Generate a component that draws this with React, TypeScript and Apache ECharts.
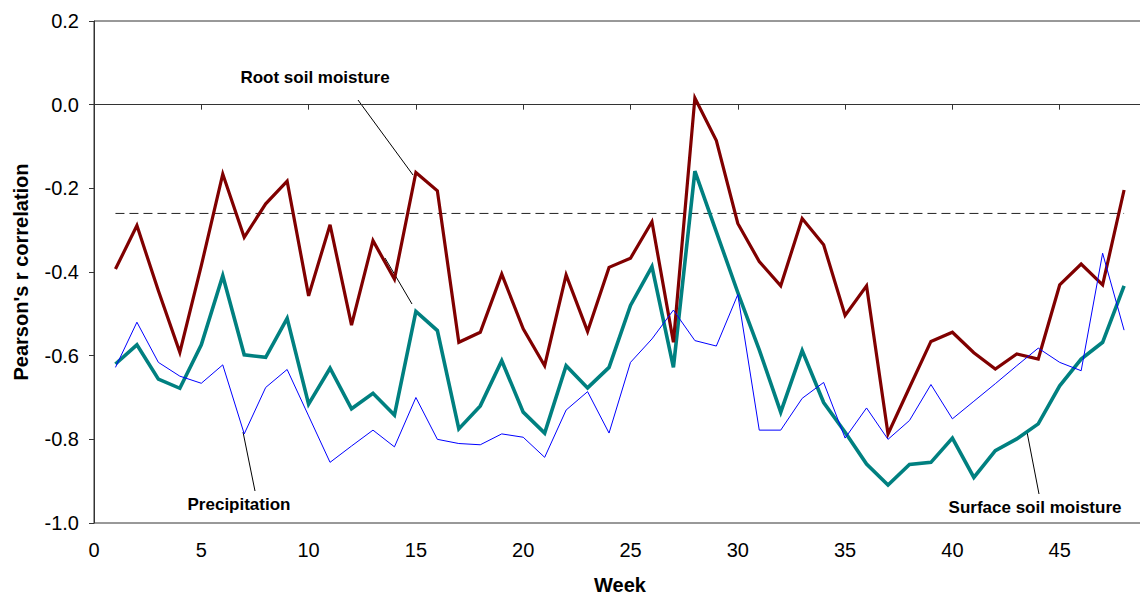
import React, { useEffect, useRef } from "react";
import * as echarts from "echarts";

const weeks = [
  1, 2, 3, 4, 5, 6, 7, 8, 9, 10, 11, 12, 13, 14, 15, 16, 17, 18, 19, 20, 21, 22, 23, 24,
  25, 26, 27, 28, 29, 30, 31, 32, 33, 34, 35, 36, 37, 38, 39, 40, 41, 42, 43, 44, 45, 46, 47, 48,
];

const rootSoilMoisture = [
  -0.393, -0.289, -0.445, -0.592, -0.385, -0.166, -0.317, -0.237, -0.183, -0.457,
  -0.287, -0.527, -0.325, -0.417, -0.162, -0.206, -0.568, -0.544, -0.405, -0.536,
  -0.624, -0.407, -0.542, -0.389, -0.367, -0.28, -0.568, 0.016, -0.086, -0.284,
  -0.375, -0.433, -0.272, -0.335, -0.504, -0.433, -0.787, -0.676, -0.566, -0.544,
  -0.593, -0.632, -0.596, -0.608, -0.431, -0.381, -0.431, -0.204,
];

const surfaceSoilMoisture = [
  -0.62, -0.574, -0.656, -0.678, -0.574, -0.409, -0.598, -0.604, -0.511, -0.716,
  -0.63, -0.727, -0.69, -0.742, -0.494, -0.54, -0.775, -0.72, -0.612, -0.735,
  -0.785, -0.624, -0.677, -0.628, -0.48, -0.387, -0.628, -0.159, -0.304, -0.449,
  -0.586, -0.735, -0.588, -0.712, -0.783, -0.859, -0.909, -0.86, -0.855, -0.797,
  -0.891, -0.827, -0.799, -0.763, -0.672, -0.608, -0.568, -0.433,
];

const precipitation = [
  -0.628, -0.52, -0.616, -0.649, -0.666, -0.622, -0.787, -0.676, -0.633, -0.744,
  -0.855, -0.816, -0.778, -0.818, -0.7, -0.8, -0.81, -0.813, -0.787, -0.795,
  -0.843, -0.73, -0.686, -0.785, -0.616, -0.56, -0.491, -0.564, -0.577, -0.454,
  -0.778, -0.778, -0.702, -0.664, -0.797, -0.725, -0.8, -0.755, -0.669, -0.751,
  -0.709, -0.667, -0.624, -0.582, -0.616, -0.636, -0.355, -0.539,
];

const thresholdValue = -0.26;
const thresholdWeeks = [1, 48];

const yTicks = { min: -1.0, max: 0.2, interval: 0.2 };
const xTicks = { min: 0, max: 50, interval: 5 };

const FONT = "'Liberation Sans', Arial, Helvetica, sans-serif";

export default function App() {
  const ref = useRef<HTMLDivElement>(null);

  useEffect(() => {
    if (!ref.current) return;
    const chart = echarts.init(ref.current, undefined, { renderer: "svg" });

    const toPairs = (vals: number[]) => weeks.map((w, i) => [w, vals[i]]);

    const option: any = {
      animation: false,
      backgroundColor: "#ffffff",
      textStyle: { fontFamily: FONT },
      grid: {
        left: 94,
        top: 21,
        width: 1073,
        bottom: 73,
        show: true,
        borderColor: "#333",
        borderWidth: 1,
        backgroundColor: "transparent",
      },
      xAxis: {
        type: "value",
        min: xTicks.min,
        max: xTicks.max,
        interval: xTicks.interval,
        axisLine: { show: true, lineStyle: { color: "#333", width: 1 } },
        axisTick: { show: true, length: 5, inside: false, lineStyle: { color: "#333" } },
        axisLabel: {
          show: true,
          showMaxLabel: false,
          margin: 17,
          fontSize: 20,
          color: "#000",
          fontFamily: FONT,
        },
        splitLine: { show: false },
      },
      yAxis: {
        type: "value",
        min: yTicks.min,
        max: yTicks.max,
        interval: yTicks.interval,
        axisLine: { show: true, lineStyle: { color: "#333", width: 1 } },
        axisTick: { show: true, length: 5, inside: false, lineStyle: { color: "#333" } },
        axisLabel: {
          margin: 15,
          fontSize: 20,
          color: "#000",
          fontFamily: FONT,
          formatter: (v: number) => v.toFixed(1),
        },
        splitLine: { show: false },
      },
      series: [
        {
          name: "Threshold",
          type: "line",
          data: thresholdWeeks.map((w) => [w, thresholdValue]),
          symbol: "none",
          lineStyle: { color: "#222", width: 1, type: [9, 5] },
          silent: true,
        },
        {
          name: "Surface soil moisture",
          type: "line",
          data: toPairs(surfaceSoilMoisture),
          symbol: "none",
          lineStyle: { color: "#008080", width: 3.6, join: "miter" },
        },
        {
          name: "Root soil moisture",
          type: "line",
          data: toPairs(rootSoilMoisture),
          symbol: "none",
          lineStyle: { color: "#800000", width: 3.2, join: "miter" },
        },
        {
          name: "Precipitation",
          type: "line",
          data: toPairs(precipitation),
          symbol: "none",
          lineStyle: { color: "#0000ff", width: 1 },
        },
      ],
      graphic: [
        {
          type: "text",
          x: 21,
          y: 272,
          rotation: Math.PI / 2,
          style: {
            text: "Pearson's r correlation",
            font: `bold 20px ${FONT}`,
            fill: "#000",
            align: "center",
            verticalAlign: "middle",
          },
        },
        {
          type: "text",
          x: 620,
          y: 585,
          style: {
            text: "Week",
            font: `bold 20px ${FONT}`,
            fill: "#000",
            align: "center",
            verticalAlign: "middle",
          },
        },
        {
          type: "text",
          x: 315,
          y: 77,
          style: {
            text: "Root soil moisture",
            font: `bold 17px ${FONT}`,
            fill: "#000",
            align: "center",
            verticalAlign: "middle",
          },
        },
        {
          type: "line",
          shape: { x1: 358, y1: 100, x2: 413, y2: 175 },
          style: { stroke: "#000", lineWidth: 1 },
        },
        {
          type: "line",
          shape: { x1: 385, y1: 258, x2: 412, y2: 304 },
          style: { stroke: "#000", lineWidth: 1 },
        },
        {
          type: "text",
          x: 239,
          y: 504,
          style: {
            text: "Precipitation",
            font: `bold 17px ${FONT}`,
            fill: "#000",
            align: "center",
            verticalAlign: "middle",
          },
        },
        {
          type: "line",
          shape: { x1: 243, y1: 432, x2: 255, y2: 491 },
          style: { stroke: "#000", lineWidth: 1 },
        },
        {
          type: "text",
          x: 1035,
          y: 507,
          style: {
            text: "Surface soil moisture",
            font: `bold 17px ${FONT}`,
            fill: "#000",
            align: "center",
            verticalAlign: "middle",
          },
        },
        {
          type: "line",
          shape: { x1: 1027, y1: 432, x2: 1039, y2: 494 },
          style: { stroke: "#000", lineWidth: 1 },
        },
      ],
    };

    chart.setOption(option);
    return () => chart.dispose();
  }, []);

  return (
    <div
      style={{
        position: "fixed",
        left: 0,
        top: 0,
        width: 1140,
        height: 596,
        overflow: "hidden",
        background: "#fff",
      }}
    >
      <div ref={ref} style={{ width: 1180, height: 596 }} />
    </div>
  );
}
